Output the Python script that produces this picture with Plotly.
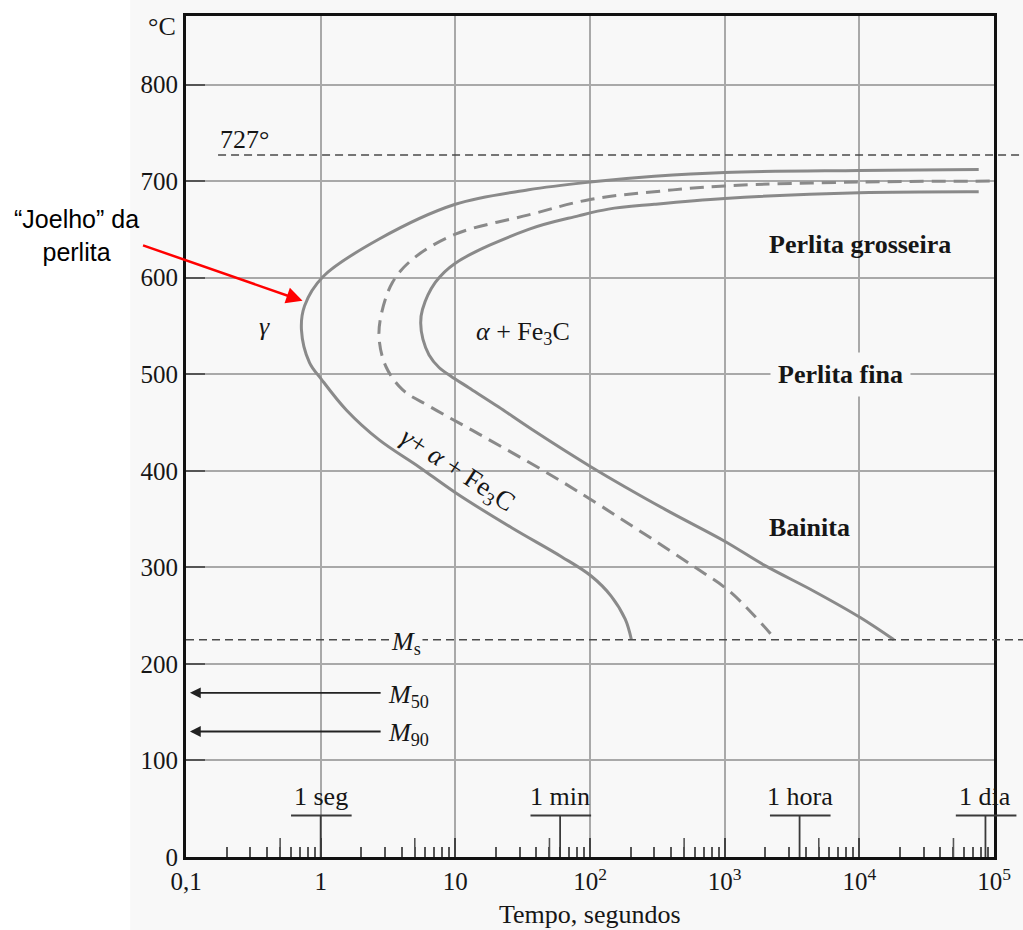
import math
import plotly.graph_objects as go

# ---------------- data ----------------
XLOG_RANGE = [-1, 5]          # 0,1 s .. 10^5 s
Y_RANGE = [0, 871]

# transformation start curve (outer, solid)
start_t = [77000, 10000, 1000, 300, 100, 35, 10, 2.72, 1.04, 0.76, 0.72,
           0.826, 1.01, 1.55, 2.72, 5.38, 10.1, 26.2, 61.4, 102, 144, 183, 203]
start_T = [712, 711, 709, 705, 699, 691, 676, 640, 601, 571, 546,
           512, 495, 463, 432, 404, 377, 341, 311, 291, 270, 246, 225]

# 50 % transformation curve (dashed)
mid_t = [93000, 10000, 1000, 300, 100, 35, 10, 4.8, 3.41, 2.8, 2.72,
         3.05, 4.05, 6.38, 15, 44, 102, 603, 1112, 2400]
mid_T = [700, 699, 695, 689, 681, 665, 645, 619, 595, 560, 536,
         508, 484, 467, 438, 401, 370, 300, 274, 225]

# transformation finish curve (inner, solid)
finish_t = [77000, 10000, 1000, 300, 137, 82, 35, 10, 7.1, 5.7, 5.53,
            5.75, 6.38, 7.57, 9.28, 12.6, 21.0, 36.9, 102, 361, 1000, 1982,
            4640, 10160, 18070]
finish_T = [689, 688, 682, 676, 671, 664, 650, 615, 595, 567, 553,
            536, 520, 507, 498, 486, 466, 443, 404, 360, 327, 302,
            275, 248, 225]

T_eutectoid = 727
Ms_T = 225
M50_T = 170
M90_T = 130
M_arrow_tail_t = 2.86
M_arrow_tip_t = 0.107

x_tickvals = [0.1, 1, 10, 100, 1000, 10000, 100000]
x_ticktext = ["0,1", "1", "10", "10<sup>2</sup>", "10<sup>3</sup>",
              "10<sup>4</sup>", "10<sup>5</sup>"]
y_tickvals = [0, 100, 200, 300, 400, 500, 600, 700, 800]

decades = [0.1, 1, 10, 100, 1000, 10000]
digits = [2, 3, 4, 5, 6, 7, 8, 9]

mark_t = [1, 60, 3600, 86400]
mark_labels = ["1 seg", "1 min", "1 hora", "1 dia"]

# region labels: (time s, temperature C, text)
region_t = [0.384, 31.6, 10200, 7250, 4270]
region_T = [549, 543, 634, 500, 341]
region_text = ["<i>γ</i>", "<i>α</i> + Fe<sub>3</sub>C", "<b>Perlita grosseira</b>",
               "<b>Perlita fina</b>", "<b>Bainita</b>"]

# ---------------- styling ----------------
SERIF = "Liberation Serif"
TXT = "#161616"
CURVE = "#8a8a8a"
GRID = "#a9a9a9"
BG = "#f8f8f8"
FS = 26
FS_TICK = 25


def xp(t):
    """paper fraction of a time value on the log x axis"""
    return (math.log10(t) - XLOG_RANGE[0]) / (XLOG_RANGE[1] - XLOG_RANGE[0])


fig = go.Figure()

curve_line = dict(color=CURVE, width=3, shape="spline", smoothing=1.0)
fig.add_trace(go.Scatter(x=start_t, y=start_T, mode="lines", line=curve_line,
                         hoverinfo="skip", showlegend=False))
fig.add_trace(go.Scatter(x=mid_t, y=mid_T, mode="lines",
                         line=dict(curve_line, dash="14px,8px"),
                         hoverinfo="skip", showlegend=False))
fig.add_trace(go.Scatter(x=finish_t, y=finish_T, mode="lines", line=curve_line,
                         hoverinfo="skip", showlegend=False))

shapes = []
# light background of the scanned figure
shapes.append(dict(type="rect", xref="paper", yref="paper", x0=-0.069, x1=1.05,
                   y0=-0.12, y1=1.03, fillcolor=BG, line=dict(width=0), layer="below"))
# 727 line and Ms line
shapes.append(dict(type="line", xref="paper", yref="y", x0=xp(0.173), x1=1.04,
                   y0=T_eutectoid, y1=T_eutectoid,
                   line=dict(color="#4a4a4a", width=1.6, dash="8px,5px")))
shapes.append(dict(type="line", xref="paper", yref="y", x0=0, x1=1.04,
                   y0=Ms_T, y1=Ms_T,
                   line=dict(color="#4a4a4a", width=1.4, dash="8px,5px")))
# time markers
for t in mark_t:
    shapes.append(dict(type="line", xref="paper", yref="y",
                       x0=xp(t) - 0.22 / 6, x1=xp(t) + 0.23 / 6, y0=43, y1=43,
                       line=dict(color="#3a3a3a", width=1.8)))
    shapes.append(dict(type="line", xref="paper", yref="y",
                       x0=xp(t), x1=xp(t), y0=0, y1=43,
                       line=dict(color="#3a3a3a", width=1.8)))
# taller "5" minor ticks
for d in decades:
    shapes.append(dict(type="line", xref="paper", yref="paper",
                       x0=xp(5 * d), x1=xp(5 * d), y0=0, y1=19 / 841.6,
                       line=dict(color="#555555", width=1.6)))

annotations = []
for t, T, txt in zip(region_t, region_T, region_text):
    annotations.append(dict(x=math.log10(t), y=T, xref="x", yref="y", text=txt,
                            showarrow=False, font=dict(family=SERIF, size=FS, color=TXT),
                            bgcolor=BG if "fina" in txt else None,
                            borderpad=7 if "fina" in txt else 0))
# rotated label along the start curve
annotations.append(dict(x=math.log10(10.3), y=400, xref="x", yref="y",
                        text="<i>γ</i>+ <i>α</i> + Fe<sub>3</sub>C", textangle=33,
                        showarrow=False, font=dict(family=SERIF, size=27, color=TXT)))
annotations.append(dict(x=math.log10(0.173), y=743, xref="x", yref="y", text="727°",
                        xanchor="left", showarrow=False,
                        font=dict(family=SERIF, size=FS, color=TXT)))
annotations.append(dict(x=-0.03, y=860, xref="paper", yref="y", text="°C",
                        xanchor="center", yanchor="middle", showarrow=False,
                        font=dict(family=SERIF, size=FS, color=TXT)))
annotations.append(dict(x=math.log10(4.3), y=Ms_T - 3, xref="x", yref="y",
                        text="<i>M</i><sub>s</sub>", showarrow=False, bgcolor=BG,
                        borderpad=1, font=dict(family=SERIF, size=FS, color=TXT)))
for T, sub in [(M50_T, "50"), (M90_T, "90")]:
    annotations.append(dict(x=math.log10(M_arrow_tip_t), y=T, xref="x", yref="y",
                            ax=math.log10(M_arrow_tail_t), ay=T, axref="x", ayref="y",
                            text="", showarrow=True, arrowhead=2, arrowsize=1.2,
                            arrowwidth=1.8, arrowcolor="#222222"))
    annotations.append(dict(x=math.log10(3.05), y=T - 3, xref="x", yref="y",
                            text="<i>M</i><sub>" + sub + "</sub>", xanchor="left",
                            showarrow=False, font=dict(family=SERIF, size=FS, color=TXT)))
for t, lab in zip(mark_t, mark_labels):
    annotations.append(dict(x=math.log10(t), y=63, xref="x", yref="y", text=lab,
                            showarrow=False, font=dict(family=SERIF, size=FS, color=TXT)))
annotations.append(dict(x=0.5, y=-0.068, xref="paper", yref="paper",
                        xanchor="center", yanchor="middle",
                        text="Tempo, segundos", showarrow=False,
                        font=dict(family=SERIF, size=FS, color=TXT)))
# "Joelho" da perlita callout
annotations.append(dict(x=-0.136, y=644, xref="paper", yref="y",
                        xanchor="center", yanchor="middle",
                        text="“Joelho” da<br>perlita", showarrow=False,
                        font=dict(family="Liberation Sans", size=25, color="#000000")))
annotations.append(dict(x=-0.1346, y=576, xref="x", yref="y", text="",
                        showarrow=True, ax=-161, ay=-56, axref="pixel", ayref="pixel",
                        arrowhead=2, arrowsize=1.3, arrowwidth=2.5, arrowcolor="#ff0000",
                        standoff=0))

fig.update_layout(
    width=1023, height=930,
    margin=dict(l=186, r=26, t=16, b=73),
    paper_bgcolor="#ffffff", plot_bgcolor=BG,
    showlegend=False, hovermode=False,
    shapes=shapes, annotations=annotations,
    font=dict(family=SERIF, size=FS, color=TXT),
)
fig.update_xaxes(
    type="log", range=XLOG_RANGE,
    tickvals=x_tickvals, ticktext=x_ticktext,
    ticks="inside", ticklen=19, tickwidth=1.8, tickcolor="#444444",
    minor=dict(tickvals=[d * m for d in decades for m in digits], ticks="inside",
               ticklen=10, tickwidth=1.5, tickcolor="#555555", showgrid=False),
    showgrid=True, gridcolor=GRID, gridwidth=1.8,
    showline=True, linecolor="#111111", linewidth=3, mirror=True,
    zeroline=False, tickfont=dict(family=SERIF, size=FS_TICK, color=TXT),
)
fig.update_yaxes(
    range=Y_RANGE, tickvals=y_tickvals,
    ticks="inside", ticklen=19, tickwidth=2, tickcolor="#555555",
    showgrid=True, gridcolor=GRID, gridwidth=1.8,
    showline=True, linecolor="#111111", linewidth=3, mirror=True,
    zeroline=False, tickfont=dict(family=SERIF, size=FS_TICK, color=TXT),
)

fig.write_html("out.html", config={"displayModeBar": False},
               post_script="document.body.style.margin='0';document.body.style.overflow='hidden';")
